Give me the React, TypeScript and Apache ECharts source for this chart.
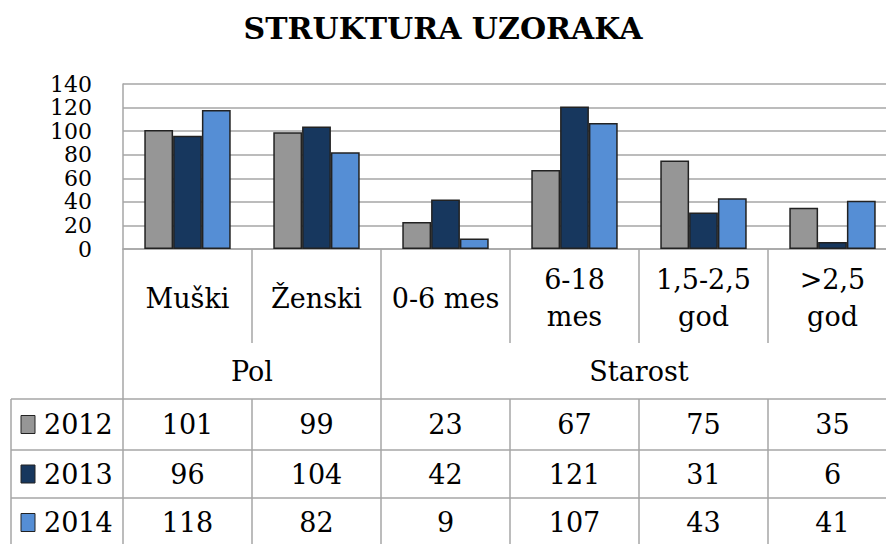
import React, { useEffect, useRef } from "react";
import * as echarts from "echarts";

const chartTitle = "STRUKTURA UZORAKA";
const categories = ["Muški", "Ženski", "0-6 mes", "6-18\nmes", "1,5-2,5\ngod", ">2,5\ngod"];
const groupNames = ["Pol", "Starost"];
const groupSpans = [2, 4];
const years = ["2012", "2013", "2014"];
const values2012 = [101, 99, 23, 67, 75, 35];
const values2013 = [96, 104, 42, 121, 31, 6];
const values2014 = [118, 82, 9, 107, 43, 41];
const yTickLabels = ["0", "20", "40", "60", "80", "100", "120", "140"];
const yRange = { min: 0, max: 140, interval: 20 };

const seriesValues = [values2012, values2013, values2014];
const barColors = ["#969696", "#17375E", "#558ED5"];
const FONT = "DejaVu Serif";
const LINE = "#A6A6A6";
const CHART_W = 897;

export default function App() {
  const ref = useRef<HTMLDivElement>(null);
  useEffect(() => {
    if (!ref.current) return;
    const chart = echarts.init(ref.current, undefined, { renderer: "svg" });
    const option: any = {
      animation: false,
      backgroundColor: "#fff",
      grid: { left: 123, top: 84, right: 0, height: 165 },
      xAxis: {
        type: "category",
        data: categories,
        axisLabel: { show: false },
        axisTick: { show: false },
        axisLine: { lineStyle: { color: LINE, width: 1.5 } },
      },
      yAxis: {
        type: "value",
        min: yRange.min,
        max: yRange.max,
        interval: yRange.interval,
        axisLine: { show: true, lineStyle: { color: LINE, width: 1.5 } },
        axisTick: { show: false },
        axisLabel: { show: false },
        splitLine: { lineStyle: { color: LINE, width: 1.5 } },
      },
      series: years.map((y, i) => ({
        name: y,
        type: "bar",
        data: seriesValues[i],
        barGap: "0%",
        barCategoryGap: "33%",
        itemStyle: { color: barColors[i], borderColor: "#222", borderWidth: 1.5 },
      })),
    };
    chart.setOption(option);

    const c0 = chart.convertToPixel({ xAxisIndex: 0 }, 0) as number;
    const c1 = chart.convertToPixel({ xAxisIndex: 0 }, 1) as number;
    const cw = c1 - c0;
    const centers = categories.map((_, i) => chart.convertToPixel({ xAxisIndex: 0 }, i) as number);
    const left = c0 - cw / 2;
    const right = left + cw * categories.length;
    const yBase = chart.convertToPixel({ yAxisIndex: 0 }, 0) as number;

    const catBottom = 343;
    const groupBottom = 399;
    const rowH = [51, 48, 49];
    const tableLeft = 11;
    const g: any[] = [];
    const line = (x1: number, y1: number, x2: number, y2: number) =>
      g.push({ type: "line", shape: { x1, y1, x2, y2 }, style: { stroke: LINE, lineWidth: 1.5 }, silent: true });
    const text = (t: string, x: number, y: number, align = "center", lh = 37, fs = 27) =>
      g.push({
        type: "text",
        x,
        y,
        style: { text: t, align, verticalAlign: "middle", fontFamily: FONT, fontSize: fs, lineHeight: lh, fill: "#000" },
        silent: true,
      });

    // title
    g.push({
      type: "text",
      x: 443,
      y: 28,
      style: {
        text: chartTitle,
        align: "center",
        verticalAlign: "middle",
        fontFamily: FONT,
        fontWeight: "bold",
        fontSize: 30,
        fill: "#000",
      },
      silent: true,
    });

    // y tick labels
    yTickLabels.forEach((lab, i) => {
      const v = yRange.min + i * yRange.interval;
      const y = chart.convertToPixel({ yAxisIndex: 0 }, v) as number;
      text(lab, left - 31, y, "right", 22, 22);
    });

    const groupBounds: number[] = [0];
    groupSpans.forEach((s) => groupBounds.push(groupBounds[groupBounds.length - 1] + s));

    const rowTops: number[] = [groupBottom];
    rowH.forEach((h) => rowTops.push(rowTops[rowTops.length - 1] + h));
    const tableBottom = rowTops[rowTops.length - 1];

    for (let i = 0; i <= categories.length; i++) {
      const x = left + cw * i;
      const isGroup = groupBounds.includes(i);
      if (isGroup) line(x, yBase, x, tableBottom);
      else {
        line(x, yBase, x, catBottom);
        line(x, groupBottom, x, tableBottom);
      }
    }
    line(tableLeft, groupBottom, tableLeft, tableBottom);
    rowTops.forEach((y) => line(tableLeft, y, right, y));

    categories.forEach((c, i) => text(c, centers[i], 298));
    groupNames.forEach((n, k) => {
      const x1 = left + cw * groupBounds[k];
      const x2 = left + cw * groupBounds[k + 1];
      text(n, (x1 + x2) / 2, 371);
    });
    years.forEach((y, r) => {
      const cy = (rowTops[r] + rowTops[r + 1]) / 2;
      g.push({
        type: "rect",
        shape: { x: 21, y: cy - 9, width: 14, height: 18 },
        style: { fill: barColors[r], stroke: "#222", lineWidth: 1 },
        silent: true,
      });
      text(y, 44, cy, "left");
      seriesValues[r].forEach((v, i) => text(String(v), centers[i], cy));
    });

    chart.setOption({ graphic: g });
    return () => chart.dispose();
  }, []);
  return (
    <div style={{ position: "absolute", left: 0, top: 0, width: 886, height: 544, overflow: "hidden" }}>
      <div ref={ref} style={{ width: CHART_W, height: 544 }} />
    </div>
  );
}
